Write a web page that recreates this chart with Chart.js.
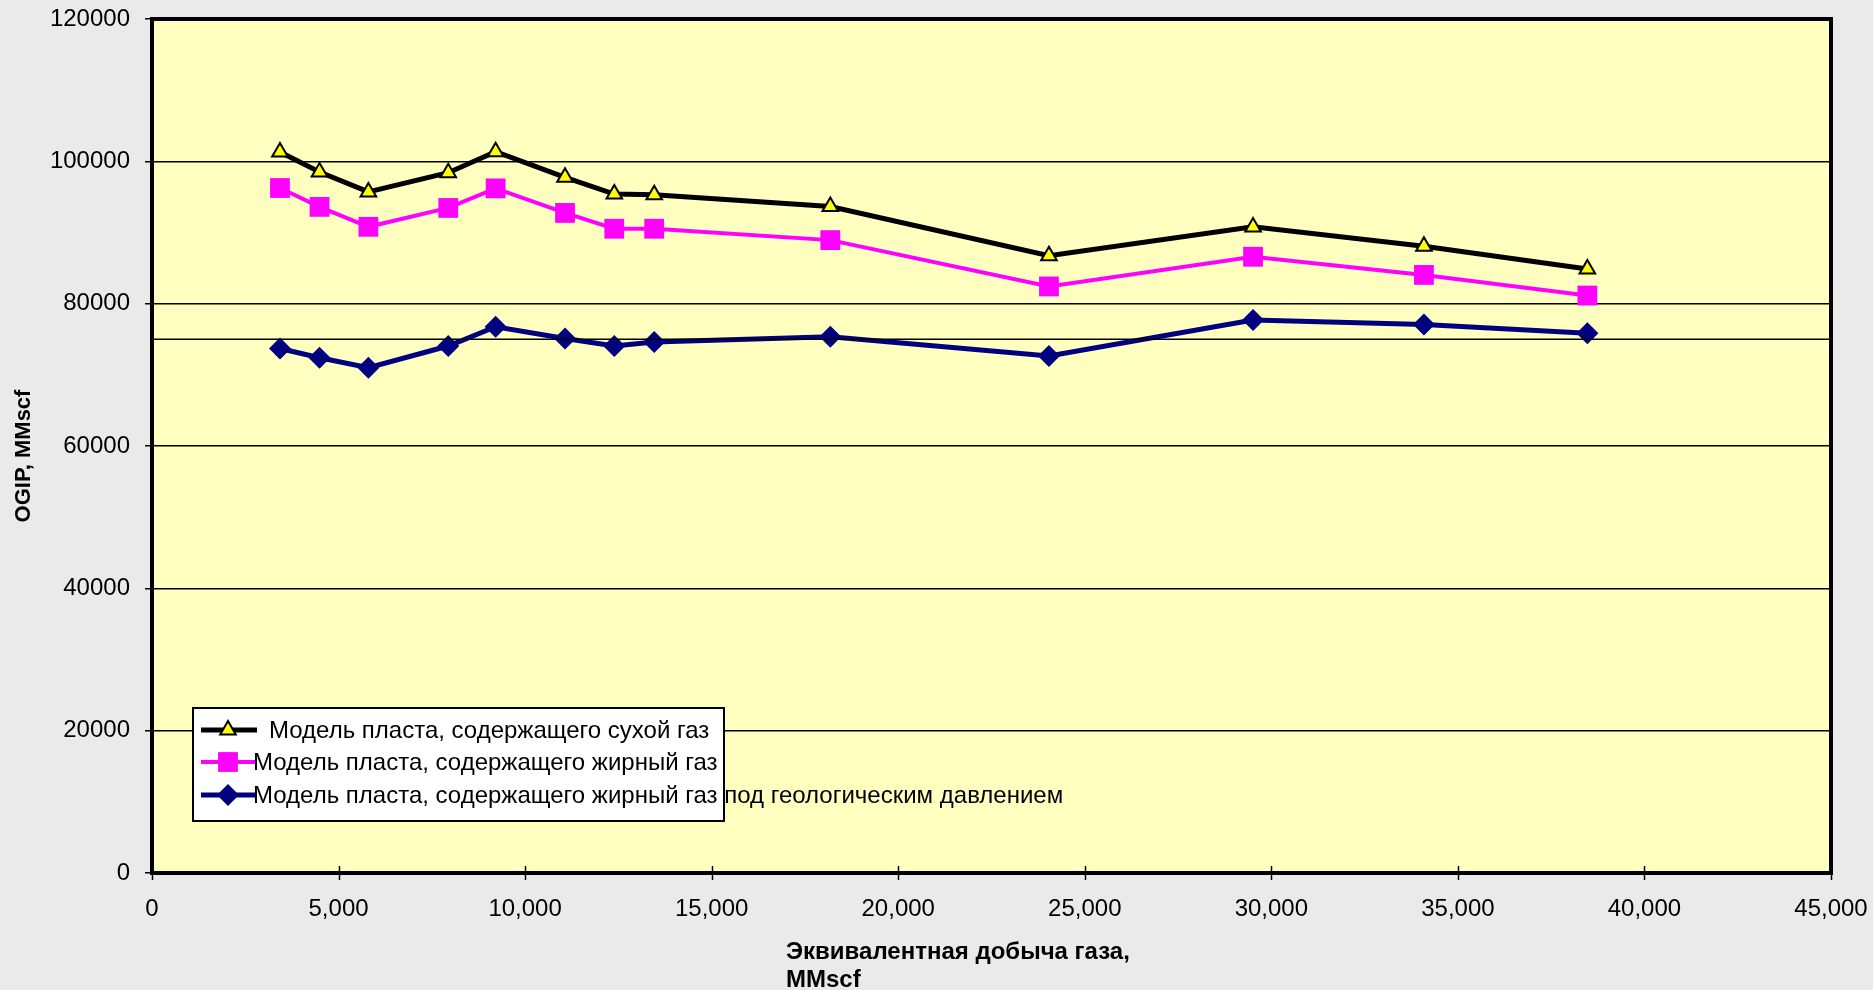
<!DOCTYPE html>
<html>
<head>
<meta charset="utf-8">
<script src="https://cdn.jsdelivr.net/npm/chart.js@4.4.0/dist/chart.umd.min.js"></script>
<style>
body{margin:0;background:#eaeaea;}
canvas{display:block;}
</style>
</head>
<body>
<canvas id="ogipChart" width="1873" height="990"></canvas>
<script>
// equivalent gas production, MMscf
const xValues = [3430, 4490, 5800, 7940, 9210, 11070, 12390, 13460, 18180, 24040, 29510, 34090, 38470];
// OGIP, MMscf
const dryGas = [101300, 98500, 95700, 98400, 101350, 97750, 95400, 95300, 93650, 86750, 90790, 88080, 84880];
const wetGas = [96250, 93600, 90800, 93450, 96200, 92750, 90530, 90530, 88930, 82420, 86590, 84040, 81140];
const wetGasGeo = [73700, 72400, 71000, 74050, 76750, 75100, 74050, 74600, 75340, 72640, 77700, 77060, 75830];
const refLine = [[0, 75000], [45000, 75000]];

const seriesNames = [
  'Модель пласта, содержащего сухой газ',
  'Модель пласта, содержащего жирный газ',
  'Модель пласта, содержащего жирный газ под геологическим давлением'
];
const xTickLabels = ['0','5,000','10,000','15,000','20,000','25,000','30,000','35,000','40,000','45,000'];
const yTickLabels = ['0','20000','40000','60000','80000','100000','120000'];
const xTitleLines = ['Эквивалентная добыча газа,', 'MMscf'];
const yTitle = 'OGIP, MMscf';

const FONT = '"Liberation Sans", Arial, sans-serif';

function pts(ys){
  return xValues.map((x,i)=>({x:x, y:ys[i]}));
}

const plotFrame = {
  id: 'plotFrame',
  beforeDraw(chart){
    const {ctx, chartArea:a} = chart;
    ctx.save();
    ctx.fillStyle = '#eaeaea';
    ctx.fillRect(0,0,chart.width,chart.height);
    ctx.fillStyle = '#ffffc0';
    ctx.fillRect(a.left,a.top,a.right-a.left,a.bottom-a.top);
    ctx.restore();
  },
  beforeDatasetsDraw(chart){
    const {ctx, chartArea:a, scales} = chart;
    ctx.save();
    ctx.strokeStyle = '#000';
    ctx.lineWidth = 4;
    ctx.strokeRect(a.left,a.top,a.right-a.left,a.bottom-a.top);
    ctx.lineWidth = 1.5;
    scales.x.ticks.forEach(t=>{
      const x = Math.round(scales.x.getPixelForValue(t.value))+0.5;
      ctx.beginPath();
      ctx.moveTo(x,a.bottom-7);
      ctx.lineTo(x,a.bottom+7);
      ctx.stroke();
    });
    // axis titles
    ctx.fillStyle = '#000';
    ctx.font = 'bold 24px ' + FONT;
    ctx.textAlign = 'left';
    ctx.textBaseline = 'middle';
    xTitleLines.forEach((s,i)=>ctx.fillText(s, 786, 952 + i*28));
    ctx.translate(24, 456);
    ctx.rotate(-Math.PI/2);
    ctx.font = 'bold 22px ' + FONT;
    ctx.textAlign = 'center';
    ctx.fillText(yTitle, 0, 0);
    ctx.restore();
  }
};

const boxLegend = {
  id: 'boxLegend',
  afterDraw(chart){
    const ctx = chart.ctx;
    const rows = [730, 762, 795];
    const textX = [269, 253, 253];
    ctx.save();
    ctx.fillStyle = '#fff';
    ctx.fillRect(193,708,531,113);
    ctx.strokeStyle = '#000';
    ctx.lineWidth = 2;
    ctx.strokeRect(193,708,531,113);
    for(let i=0;i<3;i++){
      const ds = chart.data.datasets[i+1];
      const y = rows[i];
      ctx.strokeStyle = ds.borderColor;
      ctx.lineWidth = ds.borderWidth;
      ctx.beginPath();
      ctx.moveTo(201,y);
      ctx.lineTo(257,y);
      ctx.stroke();
      ctx.fillStyle = ds.pointBackgroundColor;
      ctx.strokeStyle = ds.pointBorderColor;
      ctx.lineWidth = ds.pointBorderWidth;
      Chart.helpers.drawPoint(ctx, {pointStyle: ds.pointStyle, radius: ds.pointRadius, borderWidth: ds.pointBorderWidth, rotation: 0}, 228, y);
      ctx.fillStyle = '#000';
      ctx.font = '24px ' + FONT;
      ctx.textAlign = 'left';
      ctx.textBaseline = 'middle';
      ctx.fillText(seriesNames[i], textX[i], y+1);
    }
    ctx.restore();
  }
};

const ctx = document.getElementById('ogipChart');

const ogipChart = new Chart(ctx, {
  type: 'line',
  data: {
    datasets: [
      {
        label: '',
        data: refLine,
        borderColor: '#000',
        borderWidth: 1.5,
        pointRadius: 0
      },
      {
        label: seriesNames[0],
        data: pts(dryGas),
        borderColor: '#000',
        borderWidth: 5,
        pointStyle: 'triangle',
        pointRadius: 9,
        pointBackgroundColor: '#ffff00',
        pointBorderColor: '#000',
        pointBorderWidth: 2
      },
      {
        label: seriesNames[1],
        data: pts(wetGas),
        borderColor: '#ff00ff',
        borderWidth: 4,
        pointStyle: 'rect',
        pointRadius: 14,
        pointBackgroundColor: '#ff00ff',
        pointBorderColor: '#ff00ff',
        pointBorderWidth: 0
      },
      {
        label: seriesNames[2],
        data: pts(wetGasGeo),
        borderColor: '#000080',
        borderWidth: 5,
        pointStyle: 'rectRot',
        pointRadius: 11,
        pointBackgroundColor: '#000080',
        pointBorderColor: '#000080',
        pointBorderWidth: 0
      }
    ]
  },
  options: {
    responsive: false,
    animation: false,
    devicePixelRatio: 1,
    layout: { padding: 0 },
    plugins: {
      legend: { display: false },
      tooltip: { enabled: false }
    },
    scales: {
      x: {
        type: 'linear',
        min: 0,
        max: 45000,
        border: { display: false },
        grid: { display: false, drawTicks: false },
        ticks: {
          stepSize: 5000,
          color: '#000',
          padding: 22,
          maxRotation: 0,
          font: { family: FONT, size: 24 },
          callback: (v, i) => xTickLabels[i]
        },
        afterFit: s => { s.height = 117; s.paddingRight = 42; s.paddingLeft = 0; }
      },
      y: {
        min: 0,
        max: 120000,
        border: { display: false },
        grid: { color: '#000', lineWidth: 1.5, tickLength: 7 },
        ticks: {
          stepSize: 20000,
          color: '#000',
          padding: 15,
          font: { family: FONT, size: 24 },
          callback: (v, i) => yTickLabels[i]
        },
        afterFit: s => { s.width = 152; s.paddingTop = 19; s.paddingBottom = 0; }
      }
    }
  },
  plugins: [plotFrame, boxLegend]
});
</script>
</body>
</html>
